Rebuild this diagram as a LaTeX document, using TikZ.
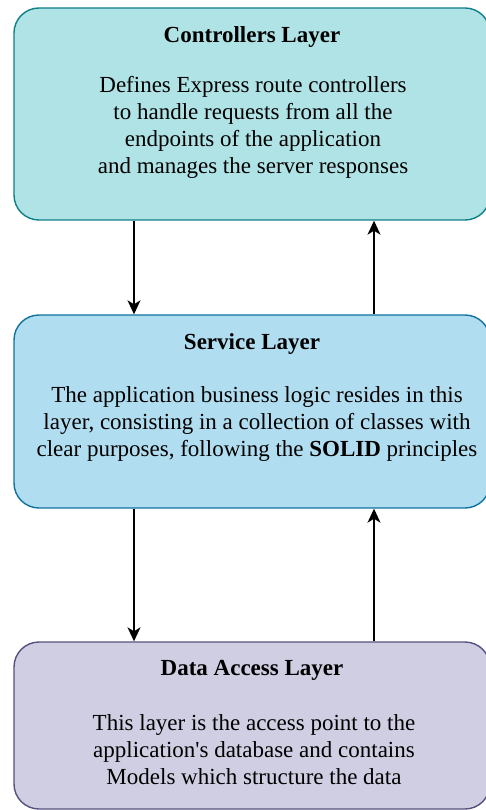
\documentclass[tikz,border=0pt]{standalone}
\usepackage{fontspec}
\setmainfont{Liberation Serif}
\usetikzlibrary{arrows.meta}

\definecolor{ctrlfill}{HTML}{B0E3E6}
\definecolor{ctrldraw}{HTML}{0E8088}
\definecolor{servfill}{HTML}{B1DDF0}
\definecolor{servdraw}{HTML}{10739E}
\definecolor{datafill}{HTML}{D0CEE2}
\definecolor{datadraw}{HTML}{56517E}

\tikzset{
  layerbox/.style={draw, line width=1.4pt, rounded corners=25pt,
    minimum width=476pt, inner sep=0pt},
  layertitle/.style={font=\fontsize{23}{27}\selectfont\bfseries, inner sep=0pt},
  layertext/.style={font=\fontsize{23}{27}\selectfont, align=center, inner sep=0pt},
  flow/.style={line width=1.3pt, -{Stealth[length=14pt,width=13pt,inset=4pt]}}
}

\begin{document}
\begin{tikzpicture}[x=1pt,y=1pt]
\useasboundingbox (0,0) rectangle (485,-810);

% layer boxes
\node[layerbox, fill=ctrlfill, draw=ctrldraw, minimum height=212pt] (ctrl) at (252,-114) {};
\node[layerbox, fill=servfill, draw=servdraw, minimum height=193pt] (serv) at (252,-411.5) {};
\node[layerbox, fill=datafill, draw=datadraw, minimum height=167pt] (data) at (252,-725.5) {};

% titles
\node[layertitle] (ctrlT) at (252,-37) {Controllers Layer};
\node[layertitle] (servT) at (252,-344) {Service Layer};
\node[layertitle] (dataT) at (252,-670) {Data Access Layer};

% descriptions
\node[layertext] (ctrlD) at (253,-127) {Defines Express route controllers\\to handle requests from all the\\endpoints of the application\\and manages the server responses};
\node[layertext] (servD) at (257,-424) {The application business logic resides in this\\layer, consisting in a collection of classes with\\clear purposes, following the \textbf{SOLID} principles};
\node[layertext] (dataD) at (254,-749.5) {This layer is the access point to the\\application\textquotesingle s database and contains\\Models which structure the data};

% connector columns
\coordinate (down) at (134,0);
\coordinate (up) at (374,0);

\draw[flow] (ctrl.south -| down) -- (serv.north -| down);
\draw[flow] (serv.north -| up) -- (ctrl.south -| up);
\draw[flow] (serv.south -| down) -- (data.north -| down);
\draw[flow] (data.north -| up) -- (serv.south -| up);
\end{tikzpicture}
\end{document}
